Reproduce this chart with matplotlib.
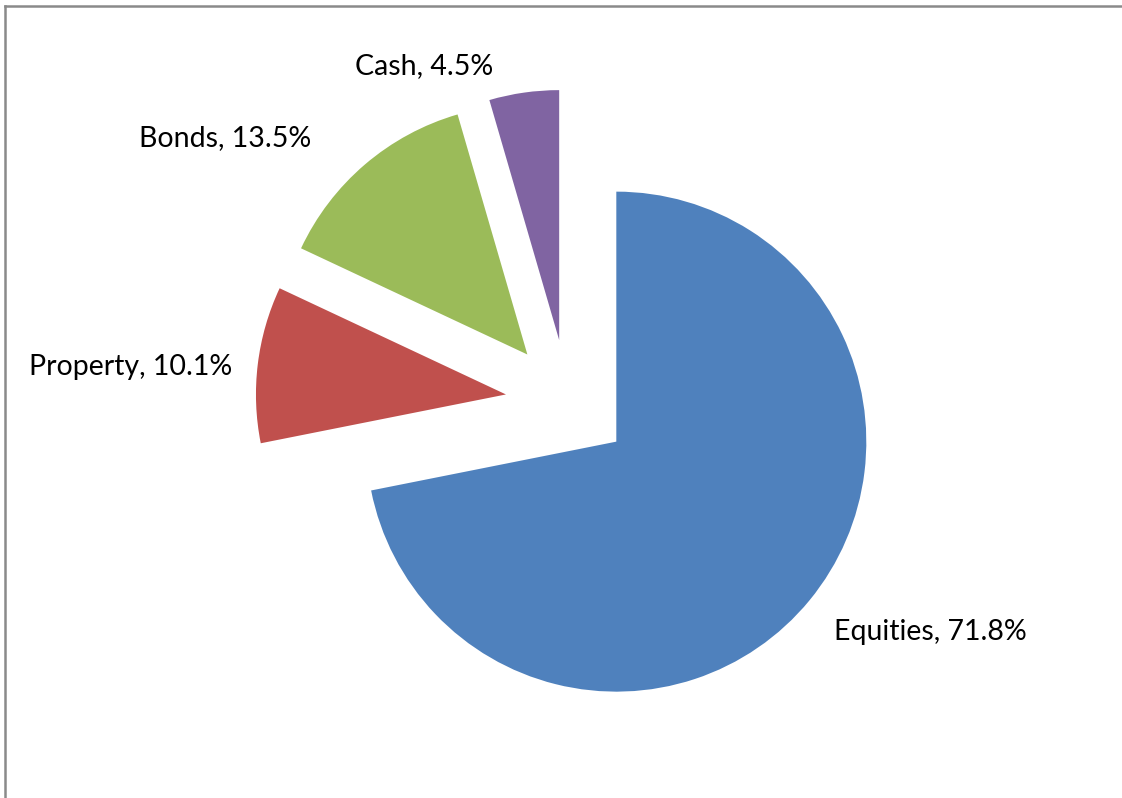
import matplotlib.pyplot as plt
from matplotlib.lines import Line2D

ASSETS = ["Equities", "Property", "Bonds", "Cash"]
SHARES = [71.8, 10.1, 13.5, 4.5]
COLOURS = ["#4F81BD", "#C0504D", "#9BBB59", "#8064A2"]

# label anchor points, in pixel coordinates of the 1122x798 canvas (y down)
LABEL_POS = [(930, 632), (131, 367), (225, 138), (424, 66)]

W, H = 1122, 798
CENTER = (568, H - 402)
RADIUS = 250


def main() -> None:
    fig = plt.figure(figsize=(W / 100, H / 100), dpi=100)
    ax = fig.add_axes([0, 0, 1, 1])

    ax.pie(
        SHARES,
        colors=COLOURS,
        startangle=90,
        counterclock=False,
        radius=RADIUS,
        center=CENTER,
        explode=[0.25 * RADIUS] * len(SHARES),
        frame=True,
        wedgeprops={"linewidth": 0},
    )

    for name, share, (x, y) in zip(ASSETS, SHARES, LABEL_POS):
        ax.text(x, H - y, f"{name}, {share}%", ha="center", va="center",
                fontsize=20.5, family="Lato", color="black")

    ax.set_xlim(0, W)
    ax.set_ylim(0, H)
    ax.set_aspect("equal")
    ax.axis("off")

    # chart area border (left and top edges)
    fig.add_artist(Line2D([5 / W, 5 / W], [0, 1 - 6 / H], color="#8a8a8a", lw=1.8))
    fig.add_artist(Line2D([5 / W, 1], [1 - 6 / H, 1 - 6 / H], color="#8a8a8a", lw=1.8))

    fig.savefig("out.png", dpi=100)


if __name__ == "__main__":
    main()
